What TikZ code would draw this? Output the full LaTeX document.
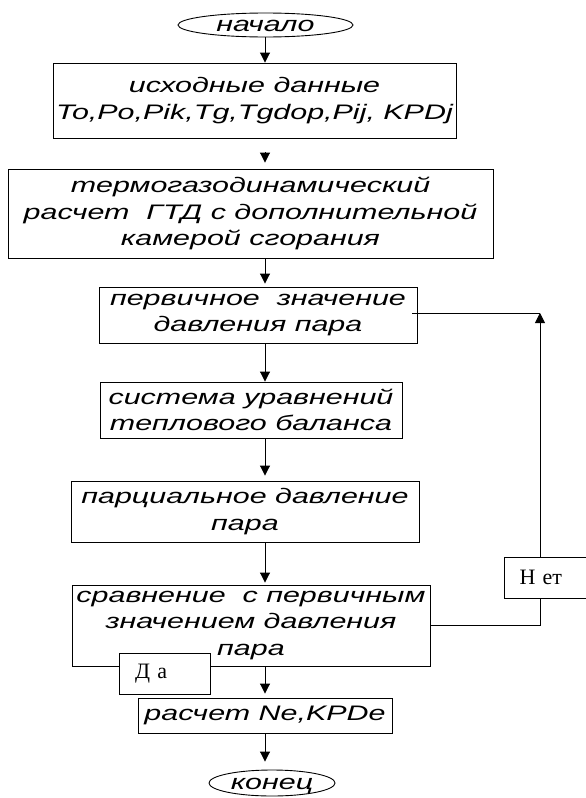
\documentclass[tikz,border=0pt]{standalone}
\usepackage{fontspec}
\usepackage{tikz}
\usetikzlibrary{positioning,arrows.meta,shapes.geometric}
\newfontfamily\flowfont[FakeStretch=1.45]{Liberation Sans}
\newfontfamily\answerfont{Liberation Serif}
\tikzset{
  flowline/.style={line width=0.9pt},
  flowbox/.style={draw, flowline, inner xsep=2pt, inner ysep=0pt, align=center,
    font=\flowfont\itshape\fontsize{21}{26.5}\selectfont},
  flowend/.style={flowbox, ellipse, text height=12pt, text depth=0pt, inner sep=0pt},
  answerbox/.style={draw, flowline, fill=white, inner ysep=0pt, align=left,
    minimum height=41pt, font=\answerfont\fontsize{22}{26}\selectfont},
  flowarrow/.style={flowline, -{Triangle[length=10pt,width=10pt]}},
}

\begin{document}
\begin{tikzpicture}[x=1pt, y=-1pt]
  \useasboundingbox (0,0) rectangle (586,798);
  \coordinate (axis) at (265,0);

  \node[flowend, minimum width=175pt, minimum height=24pt] (start) at (265.5,25) {начало};
  \node[flowbox, minimum width=403pt, minimum height=75pt] (data) at (254.5,100.5)
    {исходные данные\\To,Po,Pik,Tg,Tgdop,Pij, KPDj};
  \node[flowbox, minimum width=485pt, minimum height=89pt] (thermo) at (250.5,213.5)
    {термогазодинамический\\расчет~~ГТД с дополнительной\\камерой сгорания};
  \node[flowbox, minimum width=318pt, minimum height=56pt] (first) at (258,315)
    {первичное~~значение\\давления пара};
  \node[flowbox, minimum width=302pt, minimum height=56pt] (balance) at (251,410)
    {система уравнений\\теплового баланса};
  \node[flowbox, minimum width=348pt, minimum height=61pt] (partial) at (245,511.5)
    {парциальное давление\\пара};
  \node[flowbox, minimum width=358pt, minimum height=81pt] (cmp) at (251,625.5)
    {сравнение~~с первичным\\значением давления\\пара};
  \node[flowbox, minimum width=254pt, minimum height=35pt] (calc) at (265,715.5)
    {расчет Ne,KPDe};
  \node[flowend, minimum width=126pt, minimum height=26pt] (stop) at (272,783) {конец};

  \draw[flowarrow] (start.south -| axis) -- (data.north -| axis);
  \draw[flowarrow, shorten <=14pt, shorten >=6pt] (data.south -| axis) -- (thermo.north -| axis);
  \draw[flowarrow, shorten >=3pt] (thermo.south -| axis) -- (first.north -| axis);
  \draw[flowarrow] (first.south -| axis) -- (balance.north -| axis);
  \draw[flowarrow, shorten >=5pt] (balance.south -| axis) -- (partial.north -| axis);
  \draw[flowarrow, shorten >=2pt] (partial.south -| axis) -- (cmp.north -| axis);
  \draw[flowarrow, shorten >=4pt] (cmp.south -| axis) -- (calc.north -| axis);
  \draw[flowarrow, shorten >=8pt] (calc.south -| axis) -- (stop.north -| axis);

  % back to the first guess
  \coordinate (turn) at (540,313);
  \draw[flowarrow] (cmp.east) -| (turn);
  \draw[flowline] ([xshift=-5pt]first.east |- turn) -- (turn);

  \node[answerbox, text width=59pt, inner xsep=16pt] (yes) at (164.5,673.5) {Д а};
  \node[answerbox, text width=51pt, inner xsep=15.5pt] (no) at (545,577.5) {Н ет};
\end{tikzpicture}
\end{document}
